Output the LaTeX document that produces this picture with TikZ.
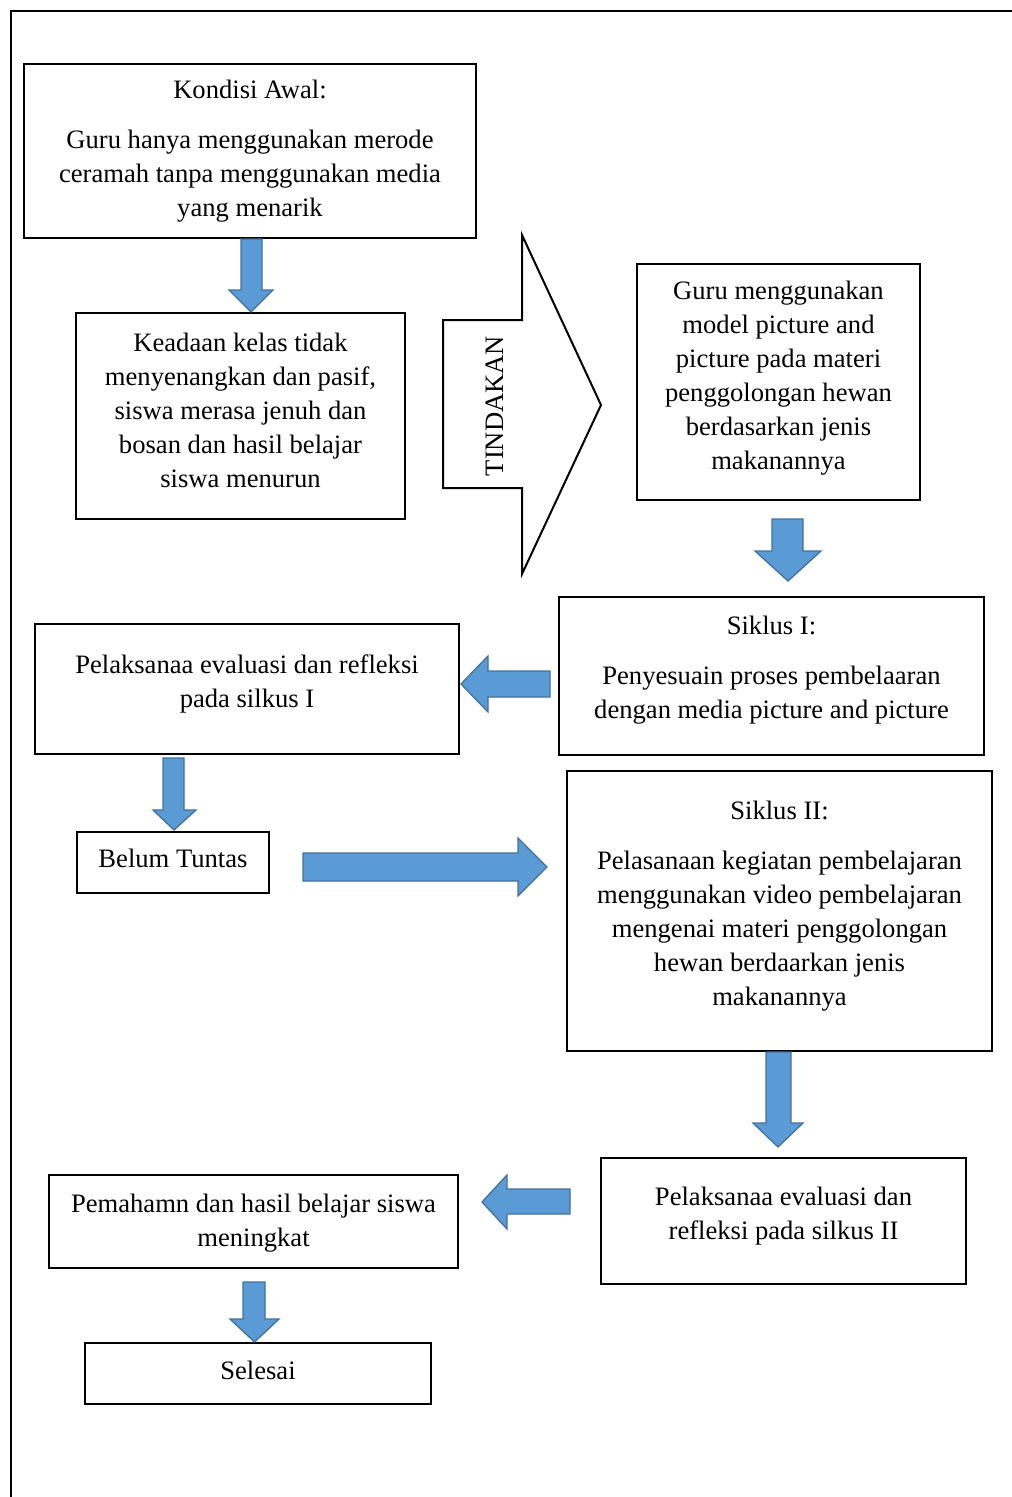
\documentclass[tikz,border=0pt]{standalone}
\usepackage{fontspec}
\setmainfont{Liberation Serif}
\definecolor{blkfill}{HTML}{5B9BD5}
\definecolor{blkline}{HTML}{41719C}
\begin{document}
\begin{tikzpicture}[x=1pt,y=-1pt,
  box/.style={draw=black, line width=2.2pt, inner sep=0pt, align=center,
    font=\fontsize{26.6}{34}\selectfont},
  blk/.style={fill=blkfill, draw=blkline, line width=1.3pt, line join=miter},
  bigarrow/.style={draw=black, line width=2pt, fill=white, line join=miter}]
\useasboundingbox (0,0) rectangle (1012,1497);
% outer frame
\draw[line width=2.6pt] (11,1497) -- (11,11) -- (1012,11);

% boxes
\node[box, minimum width=452, minimum height=174, text depth=6pt] (kondisi) at (250,151)
  {Kondisi Awal:\\[16pt]Guru hanya menggunakan merode\\ceramah tanpa menggunakan media\\yang menarik};
\node[box, minimum width=329, minimum height=206, text depth=12pt] (keadaan) at (240.5,416)
  {Keadaan kelas tidak\\menyenangkan dan pasif,\\siswa merasa jenuh dan\\bosan dan hasil belajar\\siswa menurun};
\node[box, minimum width=283, minimum height=236, text depth=14pt] (guru) at (778.5,382)
  {Guru menggunakan\\model picture and\\picture pada materi\\penggolongan hewan\\berdasarkan jenis\\makanannya};
\node[box, minimum width=425, minimum height=158, text depth=17pt] (siklus1) at (771.5,676)
  {Siklus I:\\[16pt]Penyesuain proses pembelaaran\\dengan media picture and picture};
\node[box, minimum width=424, minimum height=130, text depth=16pt] (eval1) at (247,689)
  {Pelaksanaa evaluasi dan refleksi\\pada silkus I};
\node[box, minimum width=192, minimum height=61, text depth=8pt] (belum) at (173,862.5)
  {Belum Tuntas};
\node[box, minimum width=425, minimum height=280, text depth=16pt] (siklus2) at (779.5,911)
  {Siklus II:\\[16pt]Pelasanaan kegiatan pembelajaran\\menggunakan video pembelajaran\\mengenai materi penggolongan\\hewan berdaarkan jenis\\makanannya};
\node[box, minimum width=365, minimum height=126, text depth=16pt] (eval2) at (783.5,1221)
  {Pelaksanaa evaluasi dan\\refleksi pada silkus II};
\node[box, minimum width=409, minimum height=93, text depth=2pt] (paham) at (253.5,1221.5)
  {Pemahamn dan hasil belajar siswa\\meningkat};
\node[box, minimum width=346, minimum height=61, text depth=6pt] (selesai) at (258,1373.5)
  {Selesai};

% TINDAKAN big arrow
\draw[bigarrow] (443,320) -- (522,320) -- (522,235) -- (601,405) -- (522,574)
  -- (522,488) -- (443,488) -- cycle;
\node[rotate=90, font=\fontsize{26.6}{34}\selectfont, inner sep=0pt] (tindakan) at (495,406) {TINDAKAN};

% blue block arrows
\draw[blk] (241,239) -- (262,239) -- (262,290) -- (273,290) -- (251,312) -- (229,290) -- (241,290) -- cycle;
\draw[blk] (772,519) -- (803,519) -- (803,551) -- (821,551) -- (788,581) -- (755,551) -- (772,551) -- cycle;
\draw[blk] (550,671) -- (550,697) -- (488,697) -- (488,712) -- (461,684) -- (488,656) -- (488,671) -- cycle;
\draw[blk] (163,758) -- (184,758) -- (184,810) -- (196,810) -- (174,830) -- (153,810) -- (163,810) -- cycle;
\draw[blk] (303,853) -- (518,853) -- (518,838) -- (547,867) -- (518,896) -- (518,881) -- (303,881) -- cycle;
\draw[blk] (766,1052) -- (791,1052) -- (791,1123) -- (803,1123) -- (778,1147) -- (753,1123) -- (766,1123) -- cycle;
\draw[blk] (570,1189) -- (570,1214) -- (507,1214) -- (507,1229) -- (482,1202) -- (507,1175) -- (507,1189) -- cycle;
\draw[blk] (243,1282) -- (265,1282) -- (265,1319) -- (279,1319) -- (254.5,1342) -- (230,1319) -- (243,1319) -- cycle;
\end{tikzpicture}
\end{document}
